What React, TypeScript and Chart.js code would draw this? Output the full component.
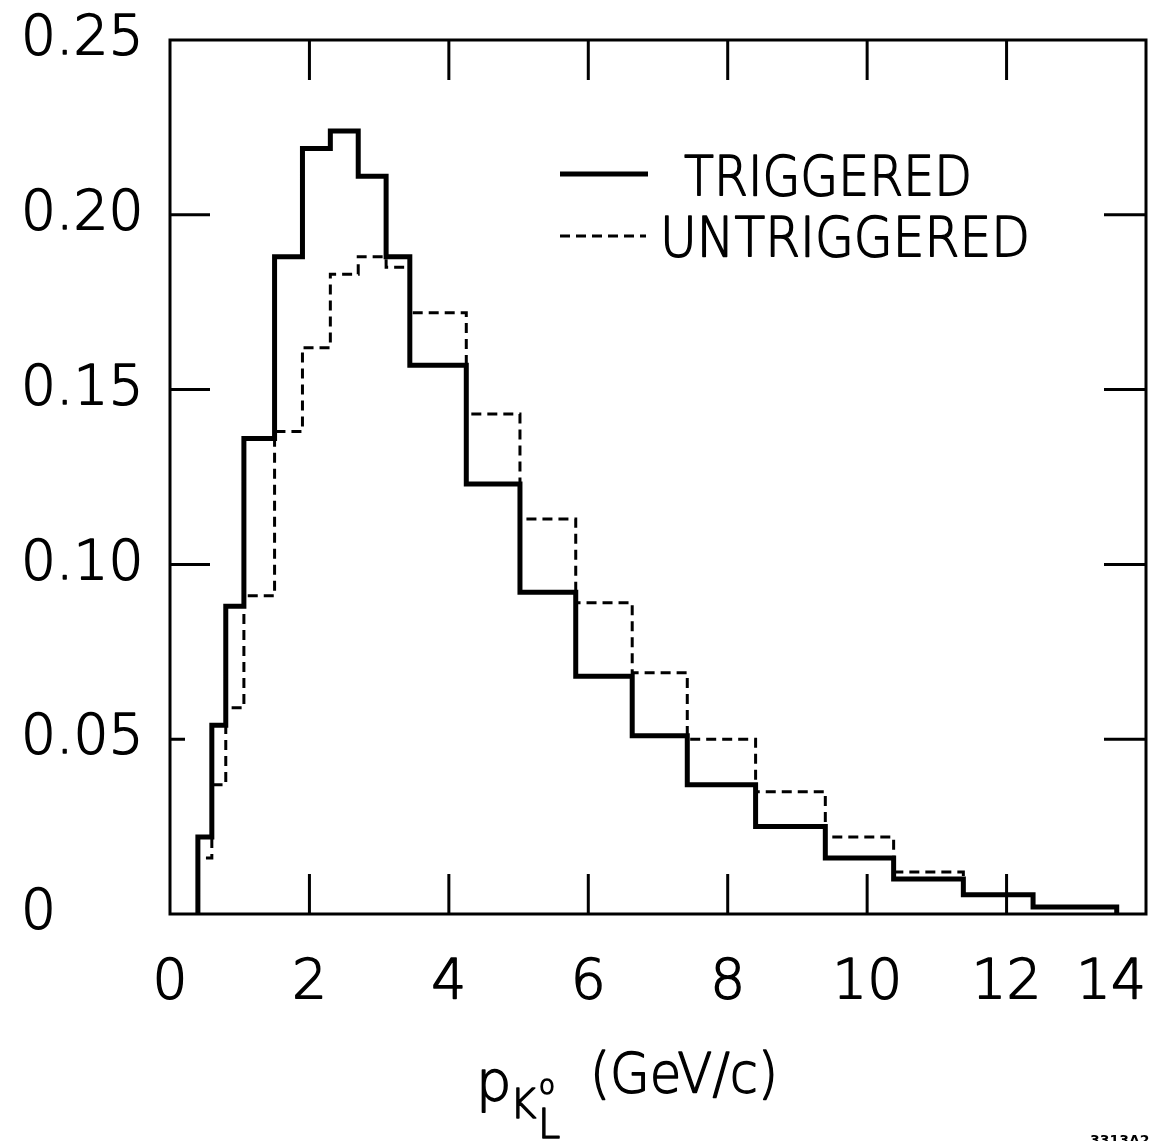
import React, { useEffect, useRef } from 'react';
import { Chart, registerables } from 'chart.js';

Chart.register(...registerables);

// Bin edges of the momentum histogram (GeV/c)
const binEdges = [0.4, 0.6, 0.8, 1.06, 1.5, 1.9, 2.3, 2.7, 3.1, 3.44, 4.25, 5.02, 5.82, 6.63, 7.42, 8.4, 9.4, 10.38, 11.38, 12.38, 13.58];
// Normalized fraction per bin
const triggered = [0.022, 0.054, 0.088, 0.136, 0.188, 0.219, 0.224, 0.211, 0.188, 0.157, 0.123, 0.092, 0.068, 0.051, 0.037, 0.025, 0.016, 0.010, 0.0055, 0.002];
const untriggered = [0.016, 0.037, 0.059, 0.091, 0.138, 0.162, 0.183, 0.188, 0.185, 0.172, 0.143, 0.113, 0.089, 0.069, 0.050, 0.035, 0.022, 0.012, 0.0055, 0.002];

const seriesNames = ['TRIGGERED', 'UNTRIGGERED'];
const xMin = 0;
const xMax = 14;
const xStep = 2;
const yMin = 0;
const yMax = 0.25;
const yStep = 0.05;
const figureCode = '3313A2';

const FONT = "'DejaVu Sans', 'Liberation Sans', sans-serif";
const WEIGHT = '200';
const TEXT_STROKE = 1.5;

function histogramPoints(edges: number[], values: number[]) {
  const pts: { x: number; y: number }[] = [{ x: edges[0], y: 0 }];
  for (let i = 0; i < values.length; i++) {
    pts.push({ x: edges[i], y: values[i] });
    pts.push({ x: edges[i + 1], y: values[i] });
  }
  pts.push({ x: edges[edges.length - 1], y: 0 });
  return pts;
}

function drawText(ctx: CanvasRenderingContext2D, text: string, x: number, y: number, width?: number) {
  ctx.save();
  ctx.translate(x, y);
  if (width) {
    const w = ctx.measureText(text).width;
    ctx.scale(width / w, 1);
  }
  ctx.lineWidth = TEXT_STROKE;
  ctx.lineJoin = 'round';
  ctx.strokeStyle = '#000';
  ctx.fillText(text, 0, 0);
  ctx.strokeText(text, 0, 0);
  ctx.restore();
}

const yLabel = (v: number) => (v === 0 ? '0' : v.toFixed(2));

const decorPlugin = {
  id: 'decor',
  afterDatasetsDraw(chart: any) {
    const ctx = chart.ctx as CanvasRenderingContext2D;
    const { left, right, top, bottom } = chart.chartArea;
    const xs = chart.scales.x;
    const ys = chart.scales.y;
    ctx.save();
    ctx.strokeStyle = '#000';
    ctx.lineWidth = 3;
    ctx.lineCap = 'butt';
    ctx.strokeRect(left, top, right - left, bottom - top);
    xs.ticks.forEach((t: any) => {
      if (t.value <= xMin || t.value >= xMax) return;
      const x = xs.getPixelForValue(t.value);
      ctx.beginPath();
      ctx.moveTo(x, bottom);
      ctx.lineTo(x, bottom - 40);
      ctx.moveTo(x, top);
      ctx.lineTo(x, top + 40);
      ctx.stroke();
    });
    ys.ticks.forEach((t: any) => {
      if (t.value <= yMin + 1e-9 || t.value >= yMax - 1e-9) return;
      const y = ys.getPixelForValue(t.value);
      const leftLen = Math.abs(t.value - 0.05) < 1e-9 ? 15 : 40;
      ctx.beginPath();
      ctx.moveTo(left, y);
      ctx.lineTo(left + leftLen, y);
      ctx.moveTo(right, y);
      ctx.lineTo(right - 42, y);
      ctx.stroke();
    });
    ctx.restore();
  },
  afterDraw(chart: any) {
    const ctx = chart.ctx as CanvasRenderingContext2D;
    const xs = chart.scales.x;
    const ys = chart.scales.y;
    const { bottom } = chart.chartArea;
    const W = chart.width;
    ctx.save();
    ctx.fillStyle = '#000';

    // y tick labels
    ctx.font = `${WEIGHT} 55px ${FONT}`;
    ctx.textAlign = 'left';
    ctx.textBaseline = 'middle';
    ys.ticks.forEach((t: any) => {
      drawText(ctx, yLabel(t.value), 21, ys.getPixelForValue(t.value));
    });

    // x tick labels
    ctx.textBaseline = 'alphabetic';
    ctx.textAlign = 'center';
    xs.ticks.forEach((t: any) => {
      const label = String(t.value);
      const w = ctx.measureText(label).width;
      let x = xs.getPixelForValue(t.value);
      x = Math.min(x, W - w / 2 - 6);
      drawText(ctx, label, x, bottom + 84);
    });

    // legend
    ctx.strokeStyle = '#000';
    ctx.lineWidth = 5;
    ctx.beginPath();
    ctx.moveTo(560, 174);
    ctx.lineTo(648, 174);
    ctx.stroke();
    ctx.lineWidth = 3;
    ctx.setLineDash([10, 6]);
    ctx.beginPath();
    ctx.moveTo(560, 236);
    ctx.lineTo(646, 236);
    ctx.stroke();
    ctx.setLineDash([]);
    ctx.textAlign = 'left';
    ctx.font = `${WEIGHT} 55px ${FONT}`;
    drawText(ctx, seriesNames[0], 684, 195, 288);
    drawText(ctx, seriesNames[1], 660, 256, 370);

    // axis title: p_{K^o_L} (GeV/c)
    ctx.font = `${WEIGHT} 56px ${FONT}`;
    drawText(ctx, 'p', 476, 1100);
    ctx.font = `${WEIGHT} 40px ${FONT}`;
    drawText(ctx, 'K', 510, 1118);
    ctx.font = `${WEIGHT} 26px ${FONT}`;
    drawText(ctx, 'o', 539, 1094);
    ctx.font = `${WEIGHT} 40px ${FONT}`;
    drawText(ctx, 'L', 538, 1138);
    ctx.font = `${WEIGHT} 56px ${FONT}`;
    drawText(ctx, '(GeV/c)', 590, 1092, 188);

    // figure code
    ctx.font = `bold 14px ${FONT}`;
    ctx.fillText(figureCode, 1090, 1145);
    ctx.restore();
  },
};

export default function App() {
  const canvasRef = useRef<HTMLCanvasElement | null>(null);

  useEffect(() => {
    const canvas = canvasRef.current;
    if (!canvas) return;
    const chart = new Chart(canvas, {
      type: 'line',
      data: {
        datasets: [
          {
            label: seriesNames[0],
            data: histogramPoints(binEdges, triggered),
            borderColor: '#000',
            borderWidth: 5,
            borderJoinStyle: 'miter',
            borderCapStyle: 'butt',
            pointRadius: 0,
            fill: false,
            tension: 0,
          },
          {
            label: seriesNames[1],
            data: histogramPoints(binEdges, untriggered),
            borderColor: '#000',
            borderWidth: 3,
            borderDash: [10, 6],
            borderJoinStyle: 'miter',
            borderCapStyle: 'butt',
            pointRadius: 0,
            fill: false,
            tension: 0,
          },
        ],
      },
      options: {
        animation: false,
        responsive: false,
        devicePixelRatio: 1,
        parsing: false,
        normalized: true,
        layout: { padding: { left: 20, top: 40, right: 6, bottom: 0 } },
        plugins: {
          legend: { display: false },
          tooltip: { enabled: false },
          title: { display: false },
        },
        scales: {
          x: {
            type: 'linear',
            min: xMin,
            max: xMax,
            ticks: { stepSize: xStep, display: false },
            grid: { display: false },
            border: { display: false },
            afterFit: (s: any) => {
              s.height = 227;
              s.paddingLeft = 0;
              s.paddingRight = 0;
            },
          },
          y: {
            type: 'linear',
            min: yMin,
            max: yMax,
            ticks: { stepSize: yStep, display: false },
            grid: { display: false },
            border: { display: false },
            afterFit: (s: any) => {
              s.width = 150;
              s.paddingTop = 0;
              s.paddingBottom = 0;
            },
          },
        },
      } as any,
      plugins: [decorPlugin],
    });
    return () => chart.destroy();
  }, []);

  return (
    <div style={{ position: 'fixed', left: 0, top: 0, width: 1152, height: 1141, background: '#fff' }}>
      <canvas ref={canvasRef} width={1152} height={1141} style={{ display: 'block', width: 1152, height: 1141 }} />
    </div>
  );
}
